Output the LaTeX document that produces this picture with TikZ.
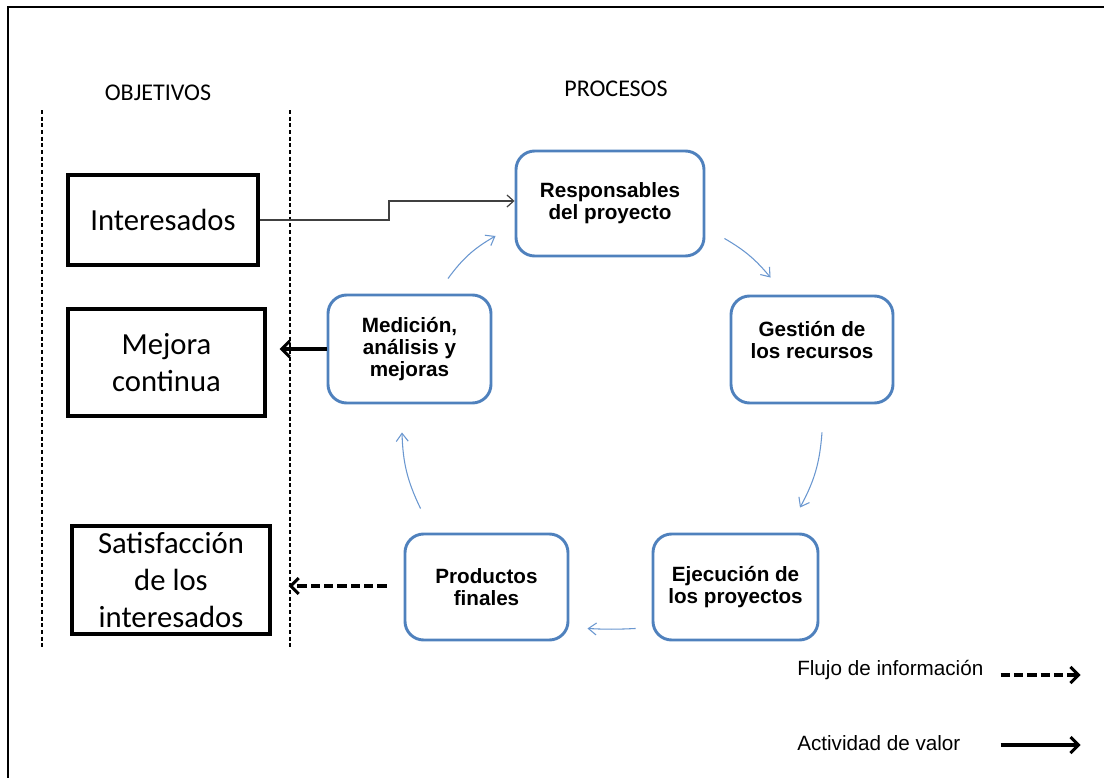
\documentclass[tikz,border=0pt]{standalone}
\usepackage{fontspec}
\setmainfont{Liberation Sans}
\newfontfamily\calib{Carlito}
\usetikzlibrary{arrows.meta,calc}
\definecolor{procblue}{HTML}{4F81BD}
\definecolor{cycblue}{HTML}{6A97D0}
\begin{document}
\begin{tikzpicture}[x=0.75pt,y=-0.75pt,
  objbox/.style={draw=black,line width=2.7pt,align=center,inner sep=0pt,
    font=\calib\fontsize{23}{27.75}\selectfont},
  procbox/.style={draw=procblue,line width=2.2pt,rounded corners=14pt,align=center,inner sep=0pt,
    minimum width=122.5pt,minimum height=80pt,
    font=\bfseries\fontsize{15.5}{16.5}\selectfont},
  header/.style={font=\calib\fontsize{18}{20}\selectfont},
  legendtext/.style={anchor=west,inner sep=0pt,font=\fontsize{15.5}{17}\selectfont},
  sep/.style={densely dashed,line width=0.8pt},
  cyc/.style={draw=cycblue,line width=0.8pt,-{Straight Barb[length=6pt,width=9pt]}},
  info/.style={draw=black!75,line width=0.9pt,-{Straight Barb[length=5pt,width=9pt]}},
  valor/.style={draw=black,line width=2.3pt,-{Straight Barb[length=6pt,width=12pt,line width=2.3pt]}},
  flujo/.style={draw=black,line width=2.3pt,dash pattern=on 7pt off 3pt,-{Straight Barb[length=6pt,width=12pt,line width=2.3pt]}}
]
\useasboundingbox (0,0) rectangle (1104,778);
% outer frame (only top and left edges visible)
\draw[line width=1.2pt] (8,778) -- (8,7) -- (1104,7);

% headers
\node[header] (objetivos) at (158,93) {OBJETIVOS};
\node[header] (procesos) at (616,89) {PROCESOS};

% separators
\coordinate (s1t) at (42,110);
\coordinate (s1b) at (42,648);
\coordinate (s2t) at (290,110);
\coordinate (s2b) at (290,648);
\draw[sep] (s1t) -- (s1b);
\draw[sep] (s2t) -- (s2b);

% objectives
\node[objbox,minimum width=142.5pt,minimum height=67.5pt] (inter) at (163,220) {Interesados};
\node[objbox,minimum width=147.75pt,minimum height=80.25pt] (mejora) at (166.5,362.5) {Mejora\\continua};
\node[objbox,minimum width=148.5pt,minimum height=81pt] (satis) at (171,580) {Satisfacción\\de los\\interesados};

% processes
\node[procbox,minimum width=141pt,minimum height=78.75pt] (resp) at (610,203.5) {Responsables\\del proyecto};
\node[procbox,minimum width=121.5pt,minimum height=80.25pt] (gest) at (812,349.5) {Gestión de\\los recursos\\[-2pt]~};
\node[procbox,minimum width=122.25pt,minimum height=81pt] (med) at (409.5,349) {Medición,\\análisis y\\mejoras};
\node[procbox,minimum width=123.75pt,minimum height=79.5pt] (ejec) at (735.5,587) {Ejecución de\\los proyectos};
\node[procbox,minimum width=122.25pt,minimum height=79.5pt] (prod) at (486.5,587) {Productos\\finales};

% cycle arrows
\draw[cyc] ($(resp.south east)+(19,-19)$) to[bend left=10] ($(gest.north west)+(41,-17)$);
\draw[cyc] ($(gest.south)+(10,28)$) to[bend left=12] ($(ejec.north)+(64.5,-25)$);
\draw[cyc] ($(ejec.south west)+(-16,-13)$) to[bend left=3] ($(prod.south east)+(18,-13)$);
\draw[cyc] ($(prod.north west)+(17,-24)$) to[bend left=12] ($(med.south)+(-7.5,28)$);
\draw[cyc] ($(med.north)+(38.5,-15)$) to[bend left=12] ($(resp.west)+(-19,32.5)$);

% interesados -> responsables
\coordinate (stepx) at (389,220);
\draw[info] (inter.east) -- (stepx) |- ($(resp.west)+(0,-2.5)$);

% outputs to objectives
\draw[valor] (med.west) -- ++(-47,0);
\draw[flujo] ($(prod.west)+(-17,-1)$) -- ++(-98,0);

% legend
\node[legendtext] (lflujo) at (797,670) {Flujo de información};
\node[legendtext] (lvalor) at (797,743) {Actividad de valor};
\draw[flujo] ($(lflujo.east)+(17,5)$) -- ++(80,0);
\draw[valor] ($(lvalor.east)+(40,2)$) -- ++(80,0);
\end{tikzpicture}
\end{document}
